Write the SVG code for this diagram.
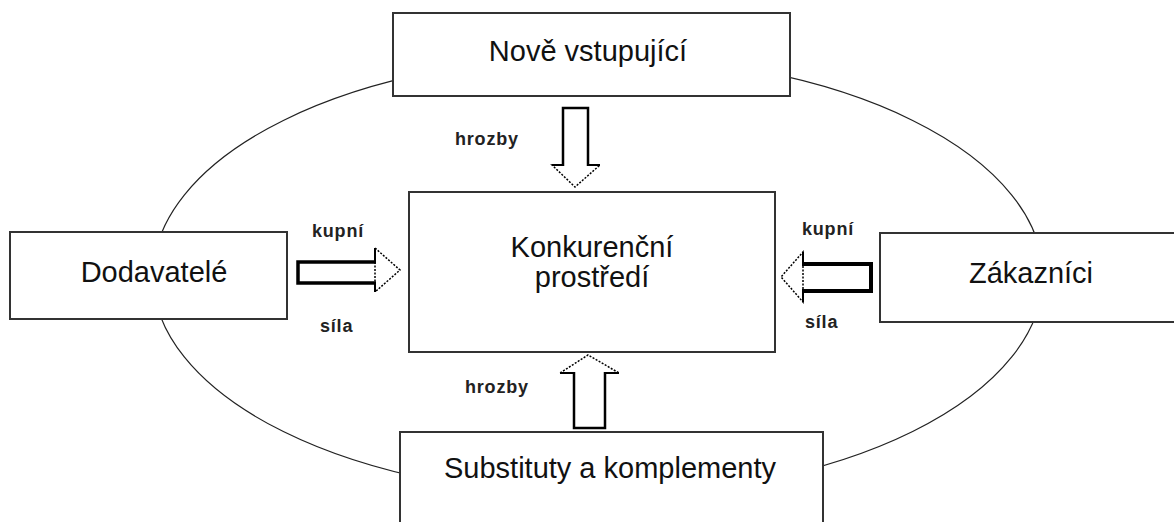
<svg xmlns="http://www.w3.org/2000/svg" width="1174" height="522" viewBox="0 0 1174 522">
<style>
.box{fill:#fff;stroke:#333;stroke-width:2}
.big{font-family:"Liberation Sans",Arial,sans-serif;font-size:29px;fill:#111;text-anchor:middle}
.lbl{font-family:"Liberation Sans",Arial,sans-serif;font-size:18px;font-weight:bold;fill:#222;letter-spacing:0.8px}
.shaft{fill:#fff;stroke:#000;stroke-width:2.5;stroke-linejoin:miter}
.head{fill:#fff;stroke:#000;stroke-width:1.5;stroke-dasharray:2 1.5}
</style>
<rect width="1174" height="522" fill="#fff"/>
<ellipse cx="598" cy="276" rx="445" ry="220" fill="none" stroke="#222" stroke-width="1.2"/>
<g id="connectors">
  <g id="arrow-top">
    <polygon class="head" points="552,165 600,165 575,187"/>
    <polyline class="shaft" points="563,166 563,108 588,108 588,166" fill="none"/>
    <line x1="552" y1="165" x2="563" y2="165" stroke="#000" stroke-width="2"/>
    <line x1="588" y1="165" x2="600" y2="165" stroke="#000" stroke-width="2"/>
  </g>
  <g id="arrow-bottom">
    <polygon class="head" points="560,373 619,373 588,355"/>
    <polyline class="shaft" points="574,372 574,428 605,428 605,372" fill="none"/>
    <line x1="560" y1="373" x2="574" y2="373" stroke="#000" stroke-width="2"/>
    <line x1="605" y1="373" x2="619" y2="373" stroke="#000" stroke-width="2"/>
  </g>
  <g id="arrow-left">
    <polygon class="head" points="375,248 375,292 400,270"/>
    <polyline points="376,262 298,262 298,283 376,283" fill="none" stroke="#000" stroke-width="3.5"/>
    <line x1="375" y1="248" x2="375" y2="262" stroke="#000" stroke-width="2"/>
    <line x1="375" y1="283" x2="375" y2="292" stroke="#000" stroke-width="2"/>
  </g>
  <g id="arrow-right">
    <polygon class="head" points="803,252 803,302 781,277"/>
    <polyline points="802,264 871,264 871,291 802,291" fill="none" stroke="#000" stroke-width="4"/>
    <line x1="803" y1="252" x2="803" y2="264" stroke="#000" stroke-width="2"/>
    <line x1="803" y1="291" x2="803" y2="302" stroke="#000" stroke-width="2"/>
  </g>
  <text class="lbl" x="455" y="145">hrozby</text>
  <text class="lbl" x="465" y="393">hrozby</text>
  <text class="lbl" x="312" y="237">kupní</text>
  <text class="lbl" x="320" y="332">síla</text>
  <text class="lbl" x="802" y="235">kupní</text>
  <text class="lbl" x="805" y="328">síla</text>
</g>
<g id="node-top">
  <rect class="box" x="393" y="13" width="397" height="83"/>
  <text class="big" x="588" y="61">Nově vstupující</text>
</g>
<g id="node-center">
  <rect class="box" x="409" y="192" width="366" height="160"/>
  <text class="big" x="592" y="257">Konkurenční</text>
  <text class="big" x="592" y="287">prostředí</text>
</g>
<g id="node-left">
  <rect class="box" x="10" y="232" width="277" height="87"/>
  <text class="big" x="154" y="282">Dodavatelé</text>
</g>
<g id="node-right">
  <rect class="box" x="880" y="233" width="300" height="89"/>
  <text class="big" x="1031" y="283">Zákazníci</text>
</g>
<g id="node-bottom">
  <rect class="box" x="400" y="432" width="423" height="100"/>
  <text class="big" x="610" y="478">Substituty a komplementy</text>
</g>
</svg>
